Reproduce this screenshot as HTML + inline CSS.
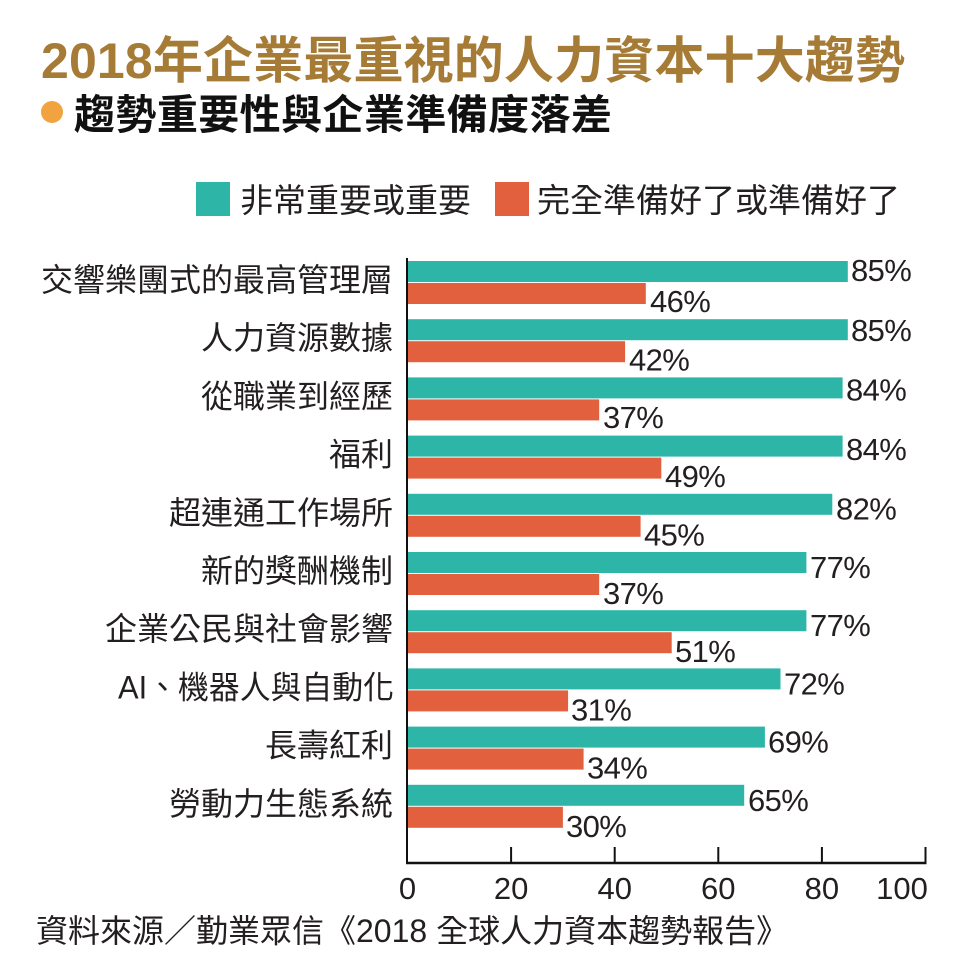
<!DOCTYPE html>
<html>
<head>
<meta charset="utf-8">
<style>
  html,body{margin:0;padding:0;background:#fff;}
  svg{display:block;}
  .cjk{font-family:"Liberation Sans","Noto Sans CJK TC",sans-serif;}
  .val{font-family:"Liberation Sans","Noto Sans CJK TC",sans-serif;font-size:31px;fill:#231f20;letter-spacing:-0.6px;}
  .cat{font-family:"Liberation Sans","Noto Sans CJK TC",sans-serif;font-size:32px;fill:#231f20;}
  .tick{font-family:"Liberation Sans",sans-serif;font-size:31px;fill:#231f20;}
</style>
</head>
<body>
<svg width="963" height="980" viewBox="0 0 963 980" xmlns="http://www.w3.org/2000/svg">
  <rect width="963" height="980" fill="#ffffff"/>
  <!-- Title -->
  <text x="41" y="78" class="cjk" font-size="50" font-weight="bold" fill="#a67b36" textLength="864" lengthAdjust="spacing">2018年企業最重視的人力資本十大趨勢</text>
  <!-- Subtitle -->
  <circle cx="52" cy="112" r="11" fill="#f1a33f"/>
  <text x="74" y="129" class="cjk" font-size="41" font-weight="bold" fill="#111" textLength="538" lengthAdjust="spacing">趨勢重要性與企業準備度落差</text>
  <!-- Legend -->
  <rect x="196" y="182" width="34" height="34" fill="#2db5a8"/>
  <text x="240" y="212" class="cjk" font-size="33" fill="#231f20">非常重要或重要</text>
  <rect x="495" y="182" width="34" height="34" fill="#e2603e"/>
  <text x="537" y="212" class="cjk" font-size="33" fill="#231f20">完全準備好了或準備好了</text>

  <!-- Bars -->
  <g id="bars">
    <!-- group 0 -->
    <rect x="407.5" y="261" width="440.3" height="21" fill="#2db5a8"/>
    <rect x="407.5" y="283" width="238.3" height="21" fill="#e2603e"/>
    <text x="851" y="281" class="val">85%</text>
    <text x="650" y="312" class="val">46%</text>
    <text x="393" y="291" class="cat" text-anchor="end">交響樂團式的最高管理層</text>
    <!-- group 1 -->
    <rect x="407.5" y="319.2" width="440.3" height="21" fill="#2db5a8"/>
    <rect x="407.5" y="341.2" width="217.6" height="21" fill="#e2603e"/>
    <text x="851" y="341" class="val">85%</text>
    <text x="629" y="370.5" class="val">42%</text>
    <text x="393" y="349.2" class="cat" text-anchor="end">人力資源數據</text>
    <!-- group 2 -->
    <rect x="407.5" y="377.4" width="435.1" height="21" fill="#2db5a8"/>
    <rect x="407.5" y="399.4" width="191.7" height="21" fill="#e2603e"/>
    <text x="846" y="400.5" class="val">84%</text>
    <text x="603" y="428" class="val">37%</text>
    <text x="393" y="407.4" class="cat" text-anchor="end">從職業到經歷</text>
    <!-- group 3 -->
    <rect x="407.5" y="435.6" width="435.1" height="21" fill="#2db5a8"/>
    <rect x="407.5" y="457.6" width="253.8" height="21" fill="#e2603e"/>
    <text x="846" y="460" class="val">84%</text>
    <text x="665" y="487" class="val">49%</text>
    <text x="393" y="465.6" class="cat" text-anchor="end">福利</text>
    <!-- group 4 -->
    <rect x="407.5" y="493.8" width="424.8" height="21" fill="#2db5a8"/>
    <rect x="407.5" y="515.8" width="233.1" height="21" fill="#e2603e"/>
    <text x="836" y="519.5" class="val">82%</text>
    <text x="644" y="545.5" class="val">45%</text>
    <text x="393" y="523.8" class="cat" text-anchor="end">超連通工作場所</text>
    <!-- group 5 -->
    <rect x="407.5" y="552" width="398.9" height="21" fill="#2db5a8"/>
    <rect x="407.5" y="574" width="191.7" height="21" fill="#e2603e"/>
    <text x="810" y="578" class="val">77%</text>
    <text x="603" y="604" class="val">37%</text>
    <text x="393" y="582" class="cat" text-anchor="end">新的獎酬機制</text>
    <!-- group 6 -->
    <rect x="407.5" y="610.2" width="398.9" height="21" fill="#2db5a8"/>
    <rect x="407.5" y="632.2" width="264.2" height="21" fill="#e2603e"/>
    <text x="810" y="636.2" class="val">77%</text>
    <text x="675" y="662.2" class="val">51%</text>
    <text x="393" y="640.2" class="cat" text-anchor="end">企業公民與社會影響</text>
    <!-- group 7 -->
    <rect x="407.5" y="668.4" width="373" height="21" fill="#2db5a8"/>
    <rect x="407.5" y="690.4" width="160.6" height="21" fill="#e2603e"/>
    <text x="784" y="694.4" class="val">72%</text>
    <text x="571" y="720.4" class="val">31%</text>
    <text x="118" y="698.4" class="cat" textLength="276" lengthAdjust="spacingAndGlyphs">AI、機器人與自動化</text>
    <!-- group 8 -->
    <rect x="407.5" y="726.6" width="357.4" height="21" fill="#2db5a8"/>
    <rect x="407.5" y="748.6" width="176.1" height="21" fill="#e2603e"/>
    <text x="768" y="752.6" class="val">69%</text>
    <text x="587" y="778.6" class="val">34%</text>
    <text x="393" y="756.6" class="cat" text-anchor="end">長壽紅利</text>
    <!-- group 9 -->
    <rect x="407.5" y="784.8" width="336.7" height="21" fill="#2db5a8"/>
    <rect x="407.5" y="806.8" width="155.4" height="21" fill="#e2603e"/>
    <text x="748" y="810.8" class="val">65%</text>
    <text x="566" y="836.8" class="val">30%</text>
    <text x="393" y="814.8" class="cat" text-anchor="end">勞動力生態系統</text>
  </g>

  <!-- Axes -->
  <line x1="407" y1="258" x2="407" y2="864" stroke="#111" stroke-width="2"/>
  <line x1="406" y1="863" x2="926.5" y2="863" stroke="#111" stroke-width="2.5"/>
  <g stroke="#111" stroke-width="2">
    <line x1="511.1" y1="847" x2="511.1" y2="863"/>
    <line x1="614.7" y1="847" x2="614.7" y2="863"/>
    <line x1="718.3" y1="847" x2="718.3" y2="863"/>
    <line x1="821.9" y1="847" x2="821.9" y2="863"/>
    <line x1="925.5" y1="847" x2="925.5" y2="863"/>
  </g>
  <text x="407.5" y="899" class="tick" text-anchor="middle">0</text>
  <text x="511.1" y="899" class="tick" text-anchor="middle">20</text>
  <text x="614.7" y="899" class="tick" text-anchor="middle">40</text>
  <text x="718.3" y="899" class="tick" text-anchor="middle">60</text>
  <text x="821.9" y="899" class="tick" text-anchor="middle">80</text>
  <text x="902" y="899" class="tick" text-anchor="middle">100</text>

  <!-- Source -->
  <text x="36" y="942" class="cjk" font-size="32" fill="#231f20">資料來源／勤業眾信《2018 全球人力資本趨勢報告》</text>
</svg>
</body>
</html>
